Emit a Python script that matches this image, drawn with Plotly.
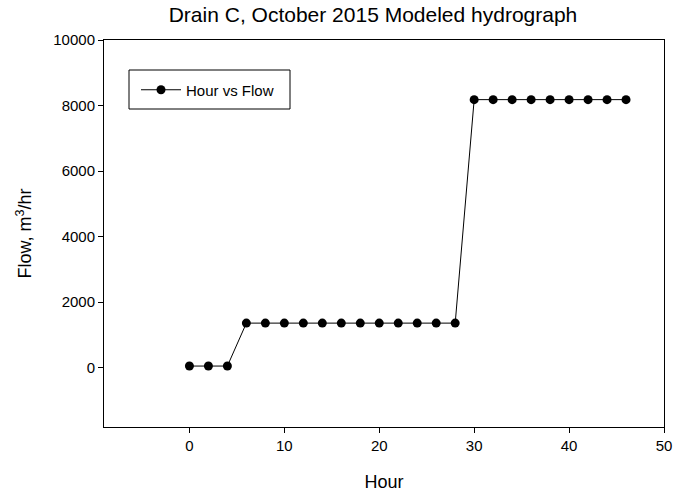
import plotly.graph_objects as go

hours = [0, 2, 4, 6, 8, 10, 12, 14, 16, 18, 20, 22, 24, 26, 28, 30, 32, 34, 36, 38, 40, 42, 44, 46]
flow = [50, 50, 50, 1360, 1360, 1360, 1360, 1360, 1360, 1360, 1360, 1360, 1360, 1360, 1360,
        8180, 8180, 8180, 8180, 8180, 8180, 8180, 8180, 8180]
x_ticks = [0, 10, 20, 30, 40, 50]
y_ticks = [0, 2000, 4000, 6000, 8000, 10000]

FONT = "Arial, Liberation Sans, sans-serif"

fig = go.Figure()
fig.add_trace(go.Scatter(
    x=hours, y=flow, mode="lines+markers", name="Hour vs Flow",
    line=dict(color="black", width=1),
    marker=dict(color="black", size=9),
))

axis_common = dict(
    showgrid=False, zeroline=False, showline=True, linecolor="black", linewidth=1,
    ticks="outside", ticklen=5, tickcolor="black", mirror=True, automargin=False,
    tickfont=dict(family=FONT, size=15, color="black"),
)
fig.update_layout(
    width=673, height=494,
    margin=dict(l=104, r=9, t=40, b=67),
    paper_bgcolor="white", plot_bgcolor="white",
    title=dict(text="Drain C, October 2015 Modeled hydrograph", x=373 / 673, xanchor="center",
               y=1 - 15 / 494, yanchor="middle",
               font=dict(family=FONT, size=21, color="black")),
    xaxis=dict(range=[-9, 50], tickvals=x_ticks, ticktext=[str(v) for v in x_ticks],
               title=dict(text="Hour", standoff=22,
                          font=dict(family=FONT, size=18, color="black")),
               **axis_common),
    yaxis=dict(range=[-1810, 10000], tickvals=y_ticks, ticktext=[str(v) for v in y_ticks],
               title=dict(text="Flow, m<sup>3</sup>/hr", standoff=16,
                          font=dict(family=FONT, size=18, color="black")),
               **axis_common),
    showlegend=True,
    legend=dict(x=(136 - 104) / 560, y=(427 - 90) / 387, xanchor="left", yanchor="middle",
                borderwidth=0, bgcolor="rgba(0,0,0,0)",
                font=dict(family=FONT, size=15, color="black"),
                itemwidth=40),
    shapes=[dict(type="rect", xref="paper", yref="paper",
                 x0=(129 - 104) / 560, x1=(290 - 104) / 560,
                 y0=(427 - 109) / 387, y1=(427 - 70) / 387,
                 line=dict(color="black", width=1), fillcolor="rgba(0,0,0,0)", layer="below")],
)
fig.write_html("out.html")
